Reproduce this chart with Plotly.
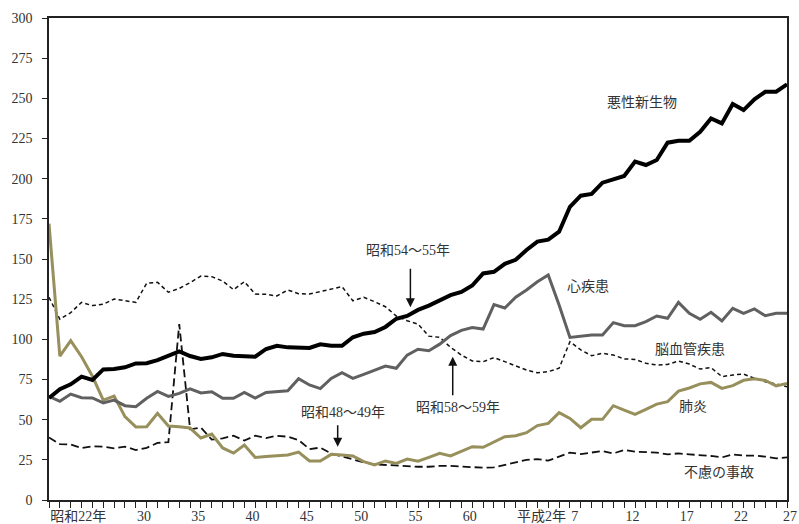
import plotly.graph_objects as go

years = list(range(1947, 2016))

malignant = [63.5, 69, 72, 76.8, 74.7, 81.3, 81.5, 82.6, 85, 85.1,
             87, 89.5, 92.5, 89.6, 87.8, 88.8, 90.9, 89.8, 89.8, 89.2,
             94, 96, 95, 94.8, 94.6, 96.9, 96, 96, 101.3, 103.5,
             104.5, 107.7, 112.8, 114.6, 118.3, 121, 124, 127.5, 129.5, 133.5,
             141, 142, 147, 149.5, 155.6, 160.8, 162, 167, 182.5, 189.4,
             190.5, 197.5, 199.6, 201.7, 210.6, 208.5, 211.6, 222.4, 223.6, 223.6,
             229.2, 237.5, 234.4, 246.5, 242.7, 249.4, 254.1, 254.1, 258.7]

heart = [64.5, 61.4, 65.9, 63.7, 63.5, 60.4, 62.2, 58.7, 58.1, 63.3,
         67.6, 64.5, 66.4, 69.2, 66.6, 67.4, 63.3, 63.3, 66.9, 63.5,
         66.9, 67.6, 68, 75.5, 71.6, 69.3, 75.7, 79.3, 75.7, 78.2,
         80.9, 83.4, 82, 90.2, 93.8, 92.9, 97, 102.3, 105.6, 107.3,
         106.4, 121.6, 119.5, 126.2, 130.7, 135.8, 140, 121.4, 101.2, 102,
         102.7, 102.7, 110.4, 108.5, 108.5, 111, 114.5, 113.1, 123, 116.2,
         112.5, 116.8, 111.4, 119.3, 116.2, 118.9, 114.7, 116.2, 116.2]

cerebro = [126.2, 112.5, 116.6, 123, 121, 121.8, 125.1, 123.9, 123, 134.9,
           135.5, 129.3, 131.7, 135.3, 139.4, 139, 136.3, 130.9, 135.9, 128.2,
           128, 127, 130.7, 128.4, 128.2, 129.7, 131.1, 132.8, 124, 126.2,
           123.4, 120.3, 114.5, 111.6, 109.5, 102, 101.2, 95, 90.2, 86.5,
           86.1, 88.6, 86.1, 83.4, 80.9, 79.2, 79.9, 82, 98.5, 93.4,
           89.8, 91.3, 90.2, 87.8, 87.5, 85.1, 84, 84.4, 86.5, 84.6,
           81.5, 82.4, 76.8, 77.8, 78.4, 75.7, 73.6, 72.2, 70.5]

pneumonia = [172, 89.6, 99.2, 89.2, 77, 62.2, 64.7, 51.9, 45.5, 45.6,
             54, 46, 45.6, 44.8, 38.6, 41, 32.4, 29.2, 34.2, 26.5,
             27, 27.4, 28, 29.8, 24.3, 24.3, 28.4, 28, 27.4, 23.9,
             21.8, 24.3, 22.8, 25.5, 24.1, 26.5, 29, 27.4, 30.5, 33.2,
             32.8, 36.3, 39.4, 40, 41.9, 46.3, 47.7, 54.4, 50.8, 45,
             50.2, 50.2, 58.7, 56, 53.3, 56.4, 59.7, 61.2, 67.8, 69.7,
             72.3, 73.2, 69.5, 71.2, 74.5, 75.4, 74.4, 71, 72.6]

accident = [38.9, 34.8, 34.6, 32.4, 33.4, 33.2, 32.2, 33.2, 31.1, 32.5,
            35.5, 36, 109.5, 44, 45, 37.6, 38.4, 40, 37, 40,
            38.5, 40, 39.4, 37.3, 31.7, 32.6, 29, 27, 25.3, 23.4,
            22.2, 21.8, 21.8, 21.4, 20.7, 20.7, 21.2, 21.2, 20.7, 20.3,
            20.1, 20.3, 21.8, 23.2, 25, 25.5, 24.5, 27, 29.5, 28.6,
            29.5, 30.5, 29, 31.1, 30.1, 29.7, 29.5, 28.4, 29, 28.4,
            28, 27.4, 26.5, 28.4, 27.6, 27.6, 27, 25.9, 26.5]

tick_labels = {1947: "昭和22年", 1955: "30", 1960: "35", 1965: "40", 1970: "45",
               1975: "50", 1980: "55", 1985: "60", 1990: "平成2年", 1995: "7",
               2000: "12", 2005: "17", 2010: "22", 2015: "27"}

FONT = "Liberation Serif, Noto Sans CJK JP, serif"
TXT = "#333333"

fig = go.Figure()
fig.add_trace(go.Scatter(x=years, y=cerebro, mode="lines", name="脳血管疾患",
                         line=dict(color="#111111", width=1.5, dash="4px,3px")))
fig.add_trace(go.Scatter(x=years, y=accident, mode="lines", name="不慮の事故",
                         line=dict(color="#111111", width=1.8, dash="8px,4px")))
fig.add_trace(go.Scatter(x=years, y=pneumonia, mode="lines", name="肺炎",
                         line=dict(color="#978F5C", width=3)))
fig.add_trace(go.Scatter(x=years, y=heart, mode="lines", name="心疾患",
                         line=dict(color="#606060", width=3)))
fig.add_trace(go.Scatter(x=years, y=malignant, mode="lines", name="悪性新生物",
                         line=dict(color="#000000", width=4)))

labels = [
    ("悪性新生物", 2001.6, 247.7),
    ("心疾患", 1996.7, 132.6),
    ("脳血管疾患", 2006.1, 93.4),
    ("肺炎", 2006.3, 58.5),
    ("不慮の事故", 2008.7, 17.4),
    ("昭和54～55年", 1980.1, 155),
    ("昭和58～59年", 1984.7, 57.3),
    ("昭和48～49年", 1974.1, 54.2),
]
for t, x, y in labels:
    fig.add_annotation(x=x, y=y, text=t, showarrow=False,
                       font=dict(family=FONT, size=14, color=TXT))

arrows = [(1980.3, 120, 0, -40), (1984.2, 89.2, 0, 40), (1973.6, 33.2, 0, -23)]
for x, y, ax, ay in arrows:
    fig.add_annotation(x=x, y=y, ax=ax, ay=ay, text="", showarrow=True,
                       arrowhead=2, arrowsize=1.2, arrowwidth=1.5, arrowcolor="#111111")

# last x tick label (plotly drops it at the edge), drawn as text at the axis end
last_year = years[-1]
fig.add_annotation(x=last_year, y=0, xref="x", yref="paper", text=tick_labels[last_year],
                   showarrow=False, xanchor="left", yanchor="top", yshift=-7, xshift=-6,
                   font=dict(family=FONT, size=14, color=TXT))

fig.update_layout(
    width=799, height=524,
    margin=dict(l=49, r=12, t=18, b=24),
    plot_bgcolor="white", paper_bgcolor="white",
    showlegend=False,
    font=dict(family=FONT, size=14, color=TXT),
)
fig.update_xaxes(
    range=[1947, 2015], tickmode="array", tickvals=years,
    ticktext=[tick_labels.get(y, "") if y != last_year else "" for y in years],
    ticks="outside", ticklen=6, tickcolor="#222222", tickwidth=1,
    showline=True, linecolor="#222222", linewidth=1.5, mirror=True,
    showgrid=False, zeroline=False, ticklabelposition="outside right",
    ticklabelstandoff=2,
    tickfont=dict(family=FONT, size=14, color=TXT), tickangle=0,
    automargin=False,
)
fig.update_yaxes(
    range=[0, 300], tick0=0, dtick=25,
    ticks="outside", ticklen=5, tickcolor="#222222", tickwidth=1,
    showline=True, linecolor="#222222", linewidth=1.5, mirror=True,
    showgrid=False, zeroline=False, ticklabelstandoff=7,
    tickfont=dict(family=FONT, size=14, color=TXT),
    automargin=False,
)

fig.write_html("out.html", config={"displayModeBar": False},
               post_script="document.body.style.margin='0';document.body.style.overflow='hidden';")
